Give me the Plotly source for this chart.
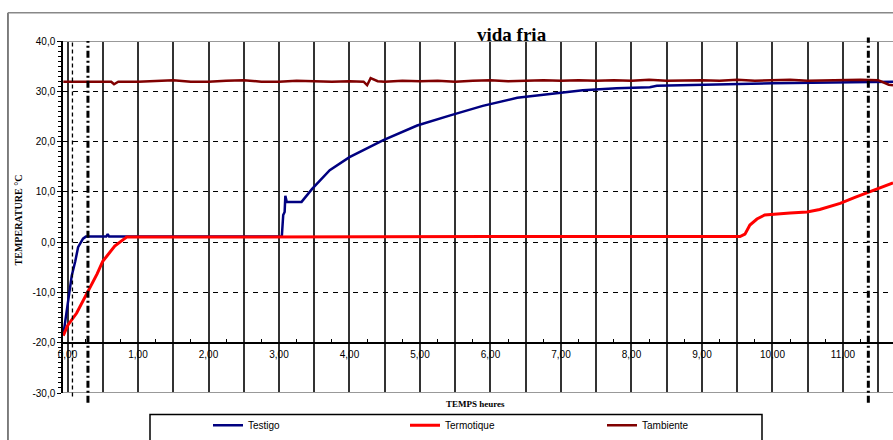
import plotly.graph_objects as go

# ---------------- data ----------------
testigo_time = [-0.06, 0.02, 0.06, 0.11, 0.15, 0.22, 0.26, 0.55, 0.57, 0.59, 1.0, 1.5, 2.0, 2.5,
                3.04, 3.06, 3.08, 3.09, 3.11, 3.32, 3.47, 3.72, 4.00, 4.48, 4.96, 5.43, 5.89,
                6.38, 6.84, 7.31, 7.79, 8.26, 8.36, 8.83, 9.25, 9.70, 10.0, 10.8, 11.5, 11.71]
testigo_temp = [-18.5, -10.2, -6.7, -3.8, -1.0, 0.7, 1.1, 1.1, 1.6, 1.1, 1.1, 1.2, 1.1, 1.1,
                1.1, 5.4, 6.0, 9.2, 8.0, 8.0, 10.6, 14.3, 16.9, 20.3, 23.2, 25.2, 27.1,
                28.7, 29.5, 30.2, 30.6, 30.8, 31.1, 31.2, 31.4, 31.5, 31.6, 31.7, 31.8, 31.9]

termo_time = [-0.06, 0.0, 0.13, 0.28, 0.42, 0.50, 0.67, 0.79, 0.84, 2.0, 4.0, 6.0, 8.0,
              9.54, 9.61, 9.68, 9.78, 9.89, 10.25, 10.49, 10.67, 10.96, 11.17, 11.34, 11.52, 11.71]
termo_temp = [-18.6, -16.6, -14.1, -10.2, -6.3, -3.8, -0.8, 0.5, 1.0, 1.0, 1.1, 1.1, 1.1,
              1.1, 1.6, 3.4, 4.6, 5.4, 5.8, 6.0, 6.5, 7.7, 8.9, 9.8, 10.8, 11.8]

amb_time = [-0.06, 0.25, 0.5, 0.62, 0.66, 0.72, 1.0, 1.25, 1.5, 1.75, 2.0, 2.25, 2.5, 2.75,
            3.0, 3.25, 3.5, 3.75, 4.0, 4.2, 4.25, 4.3, 4.4, 4.5, 4.75, 5.0, 5.25, 5.5, 5.75,
            6.0, 6.25, 6.5, 6.75, 7.0, 7.25, 7.5, 7.75, 8.0, 8.25, 8.5, 8.75, 9.0, 9.25, 9.5,
            9.75, 10.0, 10.25, 10.5, 10.75, 11.0, 11.25, 11.5, 11.58, 11.65, 11.71]
amb_temp = [31.9, 31.9, 31.9, 31.9, 31.4, 31.9, 31.9, 32.1, 32.2, 31.9, 31.9, 32.1, 32.2, 31.9,
            31.9, 32.1, 32.0, 31.9, 32.0, 31.9, 31.2, 32.6, 32.0, 31.9, 32.1, 32.0, 32.1, 31.9, 32.1,
            32.2, 32.0, 32.1, 32.2, 32.1, 32.2, 32.1, 32.2, 32.1, 32.3, 32.1, 32.2, 32.2, 32.1, 32.3,
            32.1, 32.2, 32.3, 32.1, 32.2, 32.2, 32.3, 32.2, 31.8, 31.3, 31.2]

series_names = ["Testigo", "Termotique", "Tambiente"]

x_tick_vals = [i * 0.5 for i in range(24)]
x_tick_text = [("%d,00" % int(v)) if v == int(v) else "" for v in x_tick_vals]
y_tick_vals = [-30, -20, -10, 0, 10, 20, 30, 40]
y_tick_text = ["-30,0", "-20,0", "-10,0", "0,0", "10,0", "20,0", "30,0", "40,0"]

marker_times = [0.07, 0.29, 11.36]   # vertical reference lines

title_text = "vida fria"
y_title = "TEMPERATURE °C"
x_title = "TEMPS heures"

# ---------------- figure ----------------
X_RANGE = [-0.064, 11.71]
Y_RANGE = [-30, 40]
X_AXIS_AT = -20

fig = go.Figure()
fig.add_trace(go.Scatter(x=testigo_time, y=testigo_temp, mode="lines", name=series_names[0],
                         line=dict(color="#000080", width=2.5)))
fig.add_trace(go.Scatter(x=termo_time, y=termo_temp, mode="lines", name=series_names[1],
                         line=dict(color="#FF0000", width=3)))
fig.add_trace(go.Scatter(x=amb_time, y=amb_temp, mode="lines", name=series_names[2],
                         line=dict(color="#800000", width=2.5)))

ypos = (X_AXIS_AT - Y_RANGE[0]) / (Y_RANGE[1] - Y_RANGE[0])

fig.update_layout(
    width=893, height=440,
    margin=dict(l=63, r=0, t=41, b=38),
    plot_bgcolor="white", paper_bgcolor="white",
    font=dict(family="Liberation Sans, Arial", size=10, color="black"),
    xaxis=dict(range=X_RANGE, anchor="free", position=ypos,
               tickvals=x_tick_vals, ticktext=x_tick_text, ticks="",
               showgrid=True, gridcolor="#333333", gridwidth=1.6,
               showline=True, linecolor="black", linewidth=1.5,
               zeroline=False, tickfont=dict(size=10), ticklabelstandoff=3,
               minor=dict(tick0=0.25, dtick=0.5, ticks="inside", ticklen=3,
                          tickcolor="black", showgrid=False)),
    yaxis=dict(range=Y_RANGE, tickvals=y_tick_vals, ticktext=y_tick_text,
               ticks="outside", ticklen=4, tickcolor="black",
               showgrid=True, gridcolor="black", gridwidth=1.2, griddash="5px,5px",
               showline=True, linecolor="black", linewidth=1.5, zeroline=False,
               tickfont=dict(size=10),
               minor=dict(dtick=1, ticks="outside", ticklen=3, tickcolor="black", showgrid=False)),
    yaxis2=dict(range=Y_RANGE, overlaying="y", anchor="x", side="left",
                showgrid=False, zeroline=False, showticklabels=False, showline=False,
                ticks="inside", dtick=1, tick0=0, ticklen=3, tickcolor="black"),
    showlegend=True,
    legend=dict(orientation="h", x=(208 - 63) / 830, xanchor="left",
                y=(402 - 435) / 361, yanchor="middle",
                bgcolor="rgba(0,0,0,0)", font=dict(size=10),
                entrywidth=152, entrywidthmode="pixels", itemwidth=30),
)

shapes = [
    dict(type="line", xref="paper", yref="y", x0=0, x1=1, y0=Y_RANGE[1], y1=Y_RANGE[1],
         line=dict(color="#999999", width=2)),
    dict(type="line", xref="paper", yref="y", x0=0, x1=1, y0=Y_RANGE[0], y1=Y_RANGE[0],
         line=dict(color="#999999", width=2)),
    dict(type="line", xref="paper", yref="paper", x0=-0.0663, x1=-0.0663, y0=-0.2, y1=1.0803,
         line=dict(color="#555555", width=1.5)),
    dict(type="line", xref="paper", yref="paper", x0=-0.0663, x1=1.0, y0=1.0803, y1=1.0803,
         line=dict(color="#888888", width=1.5)),
    dict(type="rect", xref="paper", yref="paper", x0=(150 - 63) / 830, x1=(762 - 63) / 830,
         y0=-0.14, y1=(402 - 424) / 361, line=dict(color="black", width=1.5)),
    dict(type="line", xref="x", yref="paper", x0=marker_times[0], x1=marker_times[0],
         y0=-0.01, y1=1, line=dict(color="black", width=1.3, dash="4px,3px")),
    dict(type="line", xref="x", yref="paper", x0=marker_times[1], x1=marker_times[1],
         y0=-0.028, y1=1, line=dict(color="black", width=3, dash="7px,3px,2px,3px")),
    dict(type="line", xref="x", yref="paper", x0=marker_times[2], x1=marker_times[2],
         y0=-0.028, y1=1.01, line=dict(color="black", width=3, dash="7px,3px,2px,3px")),
]
fig.update_layout(shapes=shapes)

fig.add_annotation(text="<b>%s</b>" % title_text, xref="paper", yref="paper",
                   x=(512 - 63) / 830, y=(402 - 34) / 361, showarrow=False,
                   xanchor="center", yanchor="middle",
                   font=dict(family="Liberation Serif, Times New Roman", size=19, color="black"))
fig.add_annotation(text="<b>%s</b>" % y_title, xref="paper", yref="paper",
                   x=(18 - 63) / 830, y=(402 - 225) / 361, showarrow=False, textangle=-90,
                   xanchor="center", yanchor="middle",
                   font=dict(family="Liberation Serif, Times New Roman", size=10, color="black"))
fig.add_annotation(text="<b>%s</b>" % x_title, xref="paper", yref="paper",
                   x=(475 - 63) / 830, y=(402 - 413) / 361, showarrow=False,
                   xanchor="center", yanchor="middle",
                   font=dict(family="Liberation Serif, Times New Roman", size=9, color="black"))

fig.write_html("out.html")
